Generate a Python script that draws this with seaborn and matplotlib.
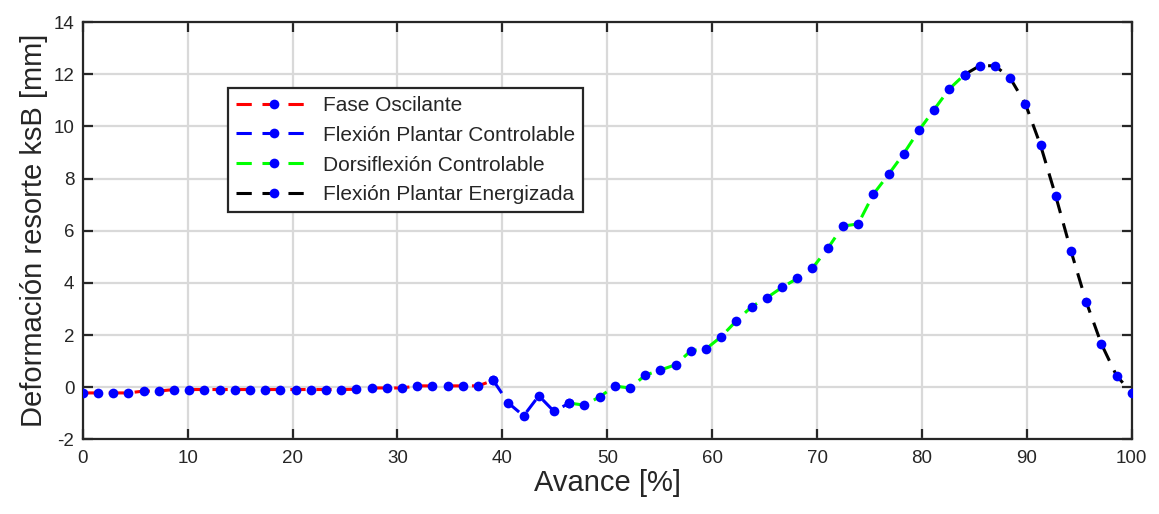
import numpy as np
import pandas as pd
import matplotlib
matplotlib.use("Agg")
import matplotlib.pyplot as plt
from matplotlib.lines import Line2D
import seaborn as sns

# Gait cycle progress [%] (uniform sampling, 70 samples)
avance = np.linspace(0, 100, 70)

# Spring ksB deformation [mm]
deformacion = [
    -0.22, -0.22, -0.22, -0.22, -0.15, -0.15, -0.09, -0.09, -0.09, -0.09,
    -0.09, -0.09, -0.09, -0.09, -0.09, -0.09, -0.09, -0.09, -0.08, -0.03,
    -0.03, -0.03, 0.05, 0.05, 0.05, 0.05, 0.05, 0.26, -0.61, -1.10,
    -0.33, -0.93, -0.61, -0.69, -0.37, 0.04, -0.03, 0.46, 0.66, 0.86,
    1.40, 1.47, 1.94, 2.55, 3.09, 3.43, 3.83, 4.17, 4.57, 5.32,
    6.18, 6.26, 7.40, 8.16, 8.96, 9.85, 10.65, 11.44, 11.99, 12.33,
    12.33, 11.86, 10.87, 9.28, 7.33, 5.23, 3.28, 1.66, 0.44, -0.22,
]

# Gait phases: (label, first sample, last sample, line colour)
fases = ["Fase Oscilante", "Flexión Plantar Controlable",
         "Dorsiflexión Controlable", "Flexión Plantar Energizada"]
inicio = [0, 27, 32, 58]
fin = [27, 32, 58, 69]
colores = ["#ff0000", "#0000ff", "#00ff00", "#000000"]

df = pd.DataFrame({"avance": avance, "deformacion": deformacion})

sns.set_style("whitegrid")
plt.rcParams["font.family"] = ["Liberation Sans", "DejaVu Sans"]
plt.rcParams["axes.unicode_minus"] = False

fig = plt.figure(figsize=(11.59, 5.14), dpi=100)
ax = fig.add_axes([0.0714, 0.1453, 0.9051, 0.8115])

lw = 2.2
dash = (0, (5, 3.5))
mk = dict(marker="o", markersize=7, markerfacecolor="#0000ff",
          markeredgecolor="#0000ff", markeredgewidth=0)
handles = []
for nombre, i0, i1, c in zip(fases, inicio, fin, colores):
    seg = df.iloc[i0:i1 + 1]
    sns.lineplot(data=seg, x="avance", y="deformacion", ax=ax, sort=False,
                 color=c, linewidth=lw, linestyle=dash, zorder=3, **mk)
    handles.append(Line2D([], [], color=c, linewidth=lw, linestyle=dash,
                          label=nombre, **mk))

ax.set_xlim(0, 100)
ax.set_ylim(-2, 14)
ax.set_xticks(np.arange(0, 101, 10))
ax.set_yticks(np.arange(-2, 15, 2))
ax.grid(True, color="#d9d9d9", linewidth=1.6)
ax.set_axisbelow(True)

for s in ax.spines.values():
    s.set_visible(True)
    s.set_color("#262626")
    s.set_linewidth(1.6)

ax.tick_params(axis="both", which="both", direction="in", length=7, width=1.6,
               colors="#262626", labelcolor="#262626", labelsize=13.5,
               top=True, right=True, bottom=True, left=True)
ax.tick_params(axis="x", pad=8)
ax.tick_params(axis="y", pad=6)

ax.set_xlabel("Avance [%]", fontsize=21, color="#262626", labelpad=1)
ax.set_ylabel("Deformación resorte ksB [mm]", fontsize=21, color="#262626",
              labelpad=4)

leg = ax.legend(handles=handles, loc="upper left",
                bbox_to_anchor=(0.1385, 0.8423), borderaxespad=0,
                fontsize=15, frameon=True, fancybox=False, framealpha=1,
                edgecolor="#262626", handlelength=3.7, handletextpad=0.5,
                labelspacing=0.52, borderpad=0.38, numpoints=1)
leg.get_frame().set_linewidth(1.6)

fig.savefig("out.png", dpi=100)
